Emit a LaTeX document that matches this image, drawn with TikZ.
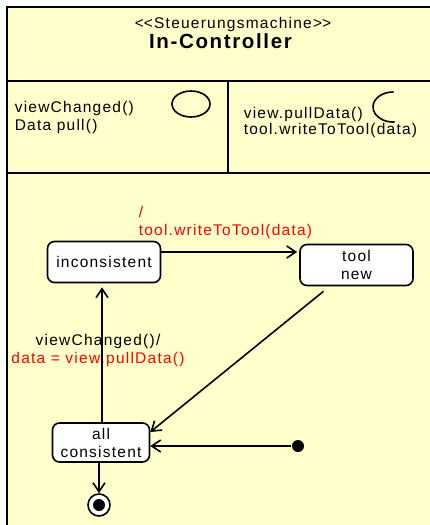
\documentclass[tikz,border=0pt]{standalone}
\usepackage{fontspec}
\setmainfont{Liberation Sans}[LetterSpace=8]
\usetikzlibrary{arrows.meta,positioning}
\definecolor{umlgelb}{RGB}{255,255,204}

\begin{document}
\begin{tikzpicture}[x=1pt,y={(0pt,-1pt)},line width=1.6pt,
	>={Straight Barb[length=9pt,width=12pt]},
	font=\fontsize{15.5}{18}\selectfont,
	zustand/.style={draw,fill=white,rounded corners=7pt,align=center,inner sep=0pt},
	punkt/.style={circle,fill,inner sep=0pt,minimum size=12pt},
	rot/.style={text=red}]
\useasboundingbox (0,0) rectangle (430,525);
\clip (0,0) rectangle (430,525);
% rahmen und abteile
\draw[fill=umlgelb] (7,7) rectangle (440,540);
\draw (7,81) -- (440,81);
\draw (7,173) -- (440,173);
\draw (228,81) -- (228,173);

\node[anchor=base]										(stereo)	at (233,28)		{<\kern0pt<Steuerungsmachine>\kern0pt>};
\node[anchor=base,font=\fontsize{20.5}{22}\bfseries\selectfont]	(name)		at (220.5,48)	{In-Controller};

\node[anchor=base west,align=left,inner sep=0pt]			(empf)		at (14,130)		{viewChanged()\\Data pull()};
\draw (191,104) ellipse [x radius=19, y radius=13];
\node[anchor=base west,align=left,inner sep=0pt,font=\fontsize{15.5}{15.5}\selectfont]	(send)	at (243,134)	{view.pullData()\\tool.writeToTool(data)};
\draw (393,107) ++(272:20 and 15) arc[start angle=272,end angle=85,x radius=20,y radius=15];

% zustaende
\node[zustand,minimum width=113pt,minimum height=41pt]	(inkons)	at (104,262)	{inconsistent};
\node[zustand,minimum width=113pt,minimum height=41pt]	(toolneu)	at (356.5,265)	{tool\\new};
\node[zustand,minimum width=97pt,minimum height=39pt]	(allkons)	at (101,442.5)	{all\\consistent};
\node[punkt]										(start)		at (298,446)	{};
\node[circle,draw,fill=white,inner sep=0pt,minimum size=22pt]	(ende)	at (99,505)	{};
\node[punkt]										(endpunkt)	at (ende)		{};

% beschriftungen
\node[rot,anchor=base west,align=left,inner sep=0pt]		(aktion)	at (138,235.5)	{/\\tool.writeToTool(data)};
\node[anchor=base,align=center,inner sep=0pt]				(trigger)	at (98,363)		{viewChanged()/\\\textcolor{red}{data = view.pullData()}};

\path[->]
(inkons.east |- 0,252)			edge	[shorten >=2pt]		(toolneu.west |- 0,252)
(allkons.north -| 102,0)			edge	[shorten >=4pt]		(inkons.south -| 102,0)
([xshift=-33pt,yshift=-5pt]toolneu.south)	edge						(allkons.east |- 0,432)
(start)							edge						(allkons.east |- start)
(allkons.south -| ende)			edge						(ende)
;
\end{tikzpicture}
\end{document}
